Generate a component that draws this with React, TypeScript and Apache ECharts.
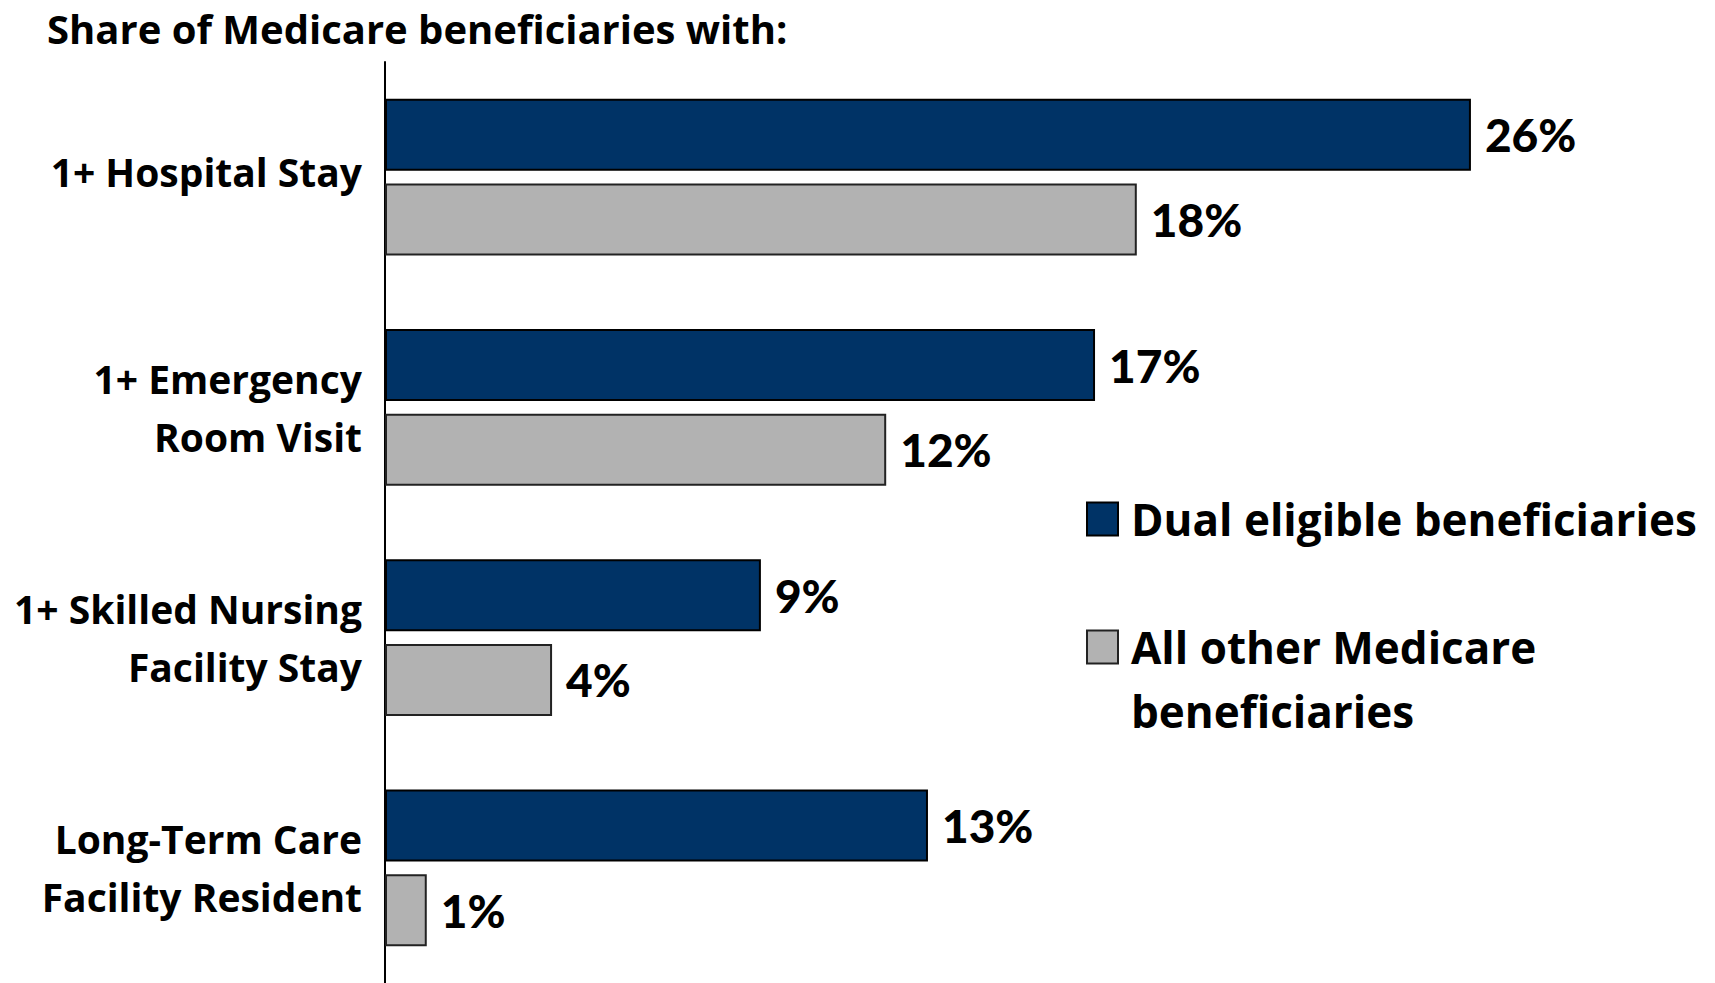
import React, { useEffect, useRef } from "react";
import * as echarts from "echarts";

const categories = [
  "1+ Hospital Stay",
  "1+ Emergency\nRoom Visit",
  "1+ Skilled Nursing\nFacility Stay",
  "Long-Term Care\nFacility Resident",
];
const dualEligible = [26, 17, 9, 13];
const allOther = [18, 12, 4, 1];
const seriesNames = ["Dual eligible beneficiaries", "All other Medicare beneficiaries"];
const titleText = "Share of Medicare beneficiaries with:";

const FONT = "'Open Sans', Lato, sans-serif";
const NUMFONT = "Lato, 'Open Sans', sans-serif";

export default function App() {
  const ref = useRef<HTMLDivElement>(null);
  useEffect(() => {
    document.body.style.margin = "0";
    if (!ref.current) return;
    const chart = echarts.init(ref.current, undefined, { renderer: "svg" });
    const valueLabel = {
      show: true,
      position: "right",
      distance: 14,
      formatter: "{c}%",
      fontFamily: NUMFONT,
      fontWeight: 900,
      fontSize: 46,
      color: "#000",
    };
    chart.setOption({
      animation: false,
      backgroundColor: "#ffffff",
      title: {
        text: titleText,
        left: 47,
        top: 0,
        padding: 0,
        textStyle: { fontFamily: FONT, fontWeight: "bold", fontSize: 40, lineHeight: 56, color: "#000" },
      },
      legend: [
        {
          data: [seriesNames[0]],
          orient: "vertical",
          left: 1086,
          top: 487,
          padding: 0,
          itemWidth: 31,
          itemHeight: 33,
          icon: "rect",
          selectedMode: false,
          textStyle: {
            fontFamily: FONT,
            fontWeight: "bold",
            fontSize: 44,
            lineHeight: 64,
            color: "#000",
            padding: [0, 0, 0, 8],
          },
        },
        {
          data: [seriesNames[1]],
          orient: "vertical",
          left: 1086,
          top: 551,
          padding: 0,
          itemWidth: 31,
          itemHeight: 33,
          icon: "rect",
          selectedMode: false,
          formatter: () => " \nAll other Medicare\nbeneficiaries",
          textStyle: {
            fontFamily: FONT,
            fontWeight: "bold",
            fontSize: 44,
            lineHeight: 64,
            color: "#000",
            padding: [0, 0, 0, 8],
          },
        },
      ],
      grid: { left: 385, top: 62, bottom: 0, width: 1253, containLabel: false },
      xAxis: {
        type: "value",
        min: 0,
        max: 30,
        show: false,
      },
      yAxis: {
        type: "category",
        data: categories,
        inverse: true,
        axisLine: { show: true, lineStyle: { color: "#000", width: 2 } },
        axisTick: { show: false },
        axisLabel: {
          fontFamily: FONT,
          fontWeight: "bold",
          fontSize: 39,
          lineHeight: 58,
          color: "#000",
          margin: 23,
          align: "right",
          formatter: (v: string, i: number) => (i === 0 ? "{one|" + v + "}" : v),
          rich: {
            one: {
              fontFamily: FONT,
              fontWeight: "bold",
              fontSize: 39,
              lineHeight: 58,
              color: "#000",
              padding: [0, 0, 12, 0],
            },
          },
        },
      },
      series: [
        {
          name: seriesNames[0],
          type: "bar",
          data: dualEligible,
          barWidth: 72,
          barGap: "17.5%",
          itemStyle: { color: "#003366", borderColor: "#000", borderWidth: 2 },
          label: valueLabel,
        },
        {
          name: seriesNames[1],
          type: "bar",
          data: allOther,
          barWidth: 72,
          barGap: "17.5%",
          itemStyle: { color: "#b2b2b2", borderColor: "#222", borderWidth: 2 },
          label: valueLabel,
        },
      ],
    });
    return () => chart.dispose();
  }, []);
  return <div ref={ref} style={{ width: 1715, height: 983 }} />;
}
